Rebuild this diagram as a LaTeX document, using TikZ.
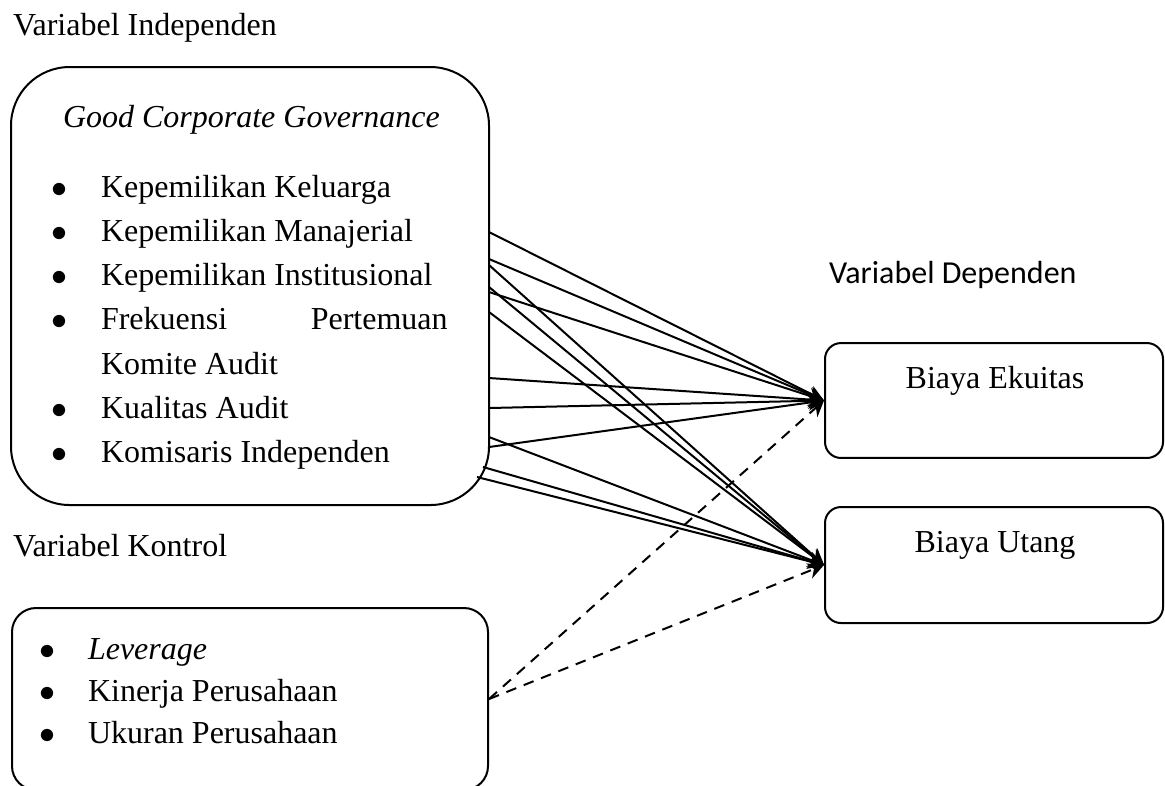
\documentclass[tikz,border=0pt]{standalone}
\usepackage{fontspec}
\setmainfont{Liberation Serif}
\newfontfamily\calibri{Carlito}
\usetikzlibrary{arrows.meta}

\begin{document}
\begin{tikzpicture}[x=0.375pt,y=-0.375pt,line width=0.75pt,>={Stealth[length=6pt,width=6pt]},
  every node/.style={font=\fontsize{12}{14}\selectfont},
  box/.style={draw,rectangle,inner sep=0pt},
  txt/.style={anchor=base west,inner sep=0pt},
  dot/.style={anchor=base,inner sep=0pt},
  ctrl/.style={dash pattern=on 4pt off 3pt}]
\useasboundingbox (0,0) rectangle (1165,785);
% independent variables
\node[txt] (lind) at (12,35) {Variabel Independen};
\node[box,rounded corners=22pt,minimum width=179.25pt,minimum height=164.25pt] (gcg) at (250,286) {};
\node[txt] (gcgt) at (62,127) {\itshape Good Corporate Governance};
\foreach \i/\y/\t in {1/197/Kepemilikan Keluarga,2/241/Kepemilikan Manajerial,3/285.5/Kepemilikan Institusional,5/418/Kualitas Audit,6/462/Komisaris Independen}{
  \node[dot] (b\i) at (59,\y) {$\bullet$};
  \node[txt] (t\i) at (100,\y) {\t};};
\node[dot] (b4) at (59,329.5) {$\bullet$};
\node[txt] (t4) at (100,329.5) {\makebox[130pt][s]{Frekuensi\hfill Pertemuan}};
\node[txt] (t4b) at (100,374) {Komite Audit};
% control variables
\node[txt] (lkon) at (12,556) {Variabel Kontrol};
\node[box,rounded corners=9pt,minimum width=178.5pt,minimum height=68.25pt] (kon) at (250,699) {};
\foreach \i/\y/\t in {1/659/\itshape Leverage,2/701/Kinerja Perusahaan,3/743/Ukuran Perusahaan}{
  \node[dot] (kb\i) at (47,\y) {$\bullet$};
  \node[txt] (kt\i) at (87,\y) {\t};};
% dependent variables
\node[txt] (ldep) at (828,283) {\calibri Variabel Dependen};
\node[box,rounded corners=6pt,minimum width=126.75pt,minimum height=43.1pt] (eku) at (994,400.5) {};
\node[dot] (ekut) at (995,388) {Biaya Ekuitas};
\node[box,rounded corners=6pt,minimum width=126.75pt,minimum height=43.5pt] (utg) at (994,565) {};
\node[dot] (utgt) at (995,552) {Biaya Utang};
% connectors
\foreach \n/\x/\y in {1/489/232,2/489/259,3/489/265,4/489/287,5/489/292,6/489/312,7/489/378,8/489/408,9/489/437,10/489/447,11/483/467,12/477/477}
  \coordinate (s\n) at (\x,\y);
\foreach \n in {1,2,5,7,8,10} \draw[->] (s\n) -- (eku.west);
\foreach \n in {3,4,6,9,11,12} \draw[->] (s\n) -- (utg.west);
\draw[ctrl,->] (kon.east) -- (eku.west);
\draw[ctrl,->] (kon.east) -- (utg.west);
\end{tikzpicture}
\end{document}
